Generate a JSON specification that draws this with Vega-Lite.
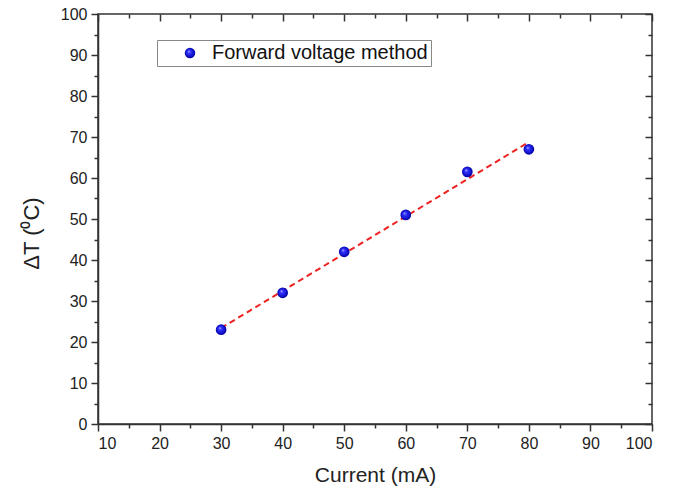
{
  "$schema": "https://vega.github.io/schema/vega-lite/v6.json",
  "width": 554,
  "height": 410,
  "autosize": "none",
  "padding": {"left": 98, "top": 14, "right": 28, "bottom": 68},
  "background": "white",
  "config": {
    "view": {"stroke": "#333333", "strokeWidth": 1.5},
    "font": "Liberation Sans",
    "axis": {
      "grid": false,
      "domainColor": "#333333",
      "domainWidth": 1.5,
      "tickColor": "#333333",
      "tickWidth": 1.5,
      "labelFont": "Liberation Sans",
      "labelFontSize": 16,
      "labelColor": "#222222",
      "titleFont": "Liberation Sans",
      "titleFontSize": 21,
      "titleFontWeight": "normal",
      "titleColor": "#222222"
    }
  },
  "datasets": {
    "pts": [
      {"current": 30, "dT": 23, "series": "Forward voltage method"},
      {"current": 40, "dT": 32, "series": "Forward voltage method"},
      {"current": 50, "dT": 42, "series": "Forward voltage method"},
      {"current": 60, "dT": 51, "series": "Forward voltage method"},
      {"current": 70, "dT": 61.5, "series": "Forward voltage method"},
      {"current": 80, "dT": 67, "series": "Forward voltage method"}
    ],
    "fit": [
      {"current": 30, "dT": 23.4},
      {"current": 79.7, "dT": 68.5}
    ]
  },
  "layer": [
    {
      "encoding": {
        "x": {
          "field": "current", "type": "quantitative",
          "scale": {"domain": [10, 100], "nice": false, "zero": false},
          "axis": {
            "title": "Current (mA)",
            "values": [10,15,20,25,30,35,40,45,50,55,60,65,70,75,80,85,90,95,100],
            "labelExpr": "datum.value % 10 === 0 ? datum.label : ''",
            "tickSize": {"condition": {"test": "datum.value % 10 === 0", "value": 7}, "value": 4},
            "labelPadding": 4,
            "titlePadding": 13
          }
        },
        "y": {
          "field": "dT", "type": "quantitative",
          "scale": {"domain": [0, 100], "nice": false},
          "axis": {
            "title": "ΔT (⁰C)",
            "titleFontSize": 22,
            "titleY": 219,
            "values": [0,5,10,15,20,25,30,35,40,45,50,55,60,65,70,75,80,85,90,95,100],
            "labelExpr": "datum.value % 10 === 0 ? datum.label : ''",
            "tickSize": {"condition": {"test": "datum.value % 10 === 0", "value": 7}, "value": 4},
            "labelPadding": 4,
            "titlePadding": 17
          }
        }
      },
      "layer": [
        {
          "data": {"name": "fit"},
          "mark": {"type": "line", "color": "#ee2222", "strokeWidth": 2, "strokeDash": [6, 4]}
        },
        {
          "data": {"name": "pts"},
          "mark": {
            "type": "point", "filled": true, "size": 115, "opacity": 1, "strokeWidth": 0,
            "fill": {
              "gradient": "radial",
              "x1": 0.38, "y1": 0.35, "r1": 0,
              "x2": 0.5, "y2": 0.5, "r2": 0.55,
              "stops": [
                {"offset": 0, "color": "#e8e8ff"},
                {"offset": 0.22, "color": "#3a3aff"},
                {"offset": 0.7, "color": "#1010d0"},
                {"offset": 1, "color": "#000080"}
              ]
            }
          },
          "encoding": {
            "shape": {
              "field": "series", "type": "nominal",
              "scale": {"range": ["circle"]},
              "legend": {
                "title": null,
                "orient": "none",
                "legendX": 59,
                "legendY": 26,
                "direction": "vertical",
                "strokeColor": "#888888",
                "fillColor": "white",
                "padding": 3,
                "symbolType": "circle",
                "symbolSize": 110,
                "symbolFillColor": "#1a1ae6",
                "symbolStrokeWidth": 0,
                "symbolOffset": 20,
                "labelOffset": 12,
                "labelFont": "Liberation Sans",
                "labelFontSize": 20,
                "labelColor": "#111111",
                "labelLimit": 400
              }
            }
          }
        }
      ]
    },
    {
      "data": {"name": "fit"},
      "mark": {"type": "point", "opacity": 0},
      "encoding": {
        "x": {
          "field": "current", "type": "quantitative",
          "scale": {"domain": [10, 100], "nice": false, "zero": false},
          "axis": {
            "orient": "top", "title": null, "labels": false, "domain": false,
            "values": [10,15,20,25,30,35,40,45,50,55,60,65,70,75,80,85,90,95,100],
            "tickSize": {"condition": {"test": "datum.value % 10 === 0", "value": -7}, "value": -4}
          }
        },
        "y": {
          "field": "dT", "type": "quantitative",
          "scale": {"domain": [0, 100], "nice": false},
          "axis": {
            "orient": "right", "title": null, "labels": false, "domain": false,
            "values": [0,5,10,15,20,25,30,35,40,45,50,55,60,65,70,75,80,85,90,95,100],
            "tickSize": {"condition": {"test": "datum.value % 10 === 0", "value": -7}, "value": -4}
          }
        }
      }
    }
  ],
  "resolve": {"scale": {"x": "independent", "y": "independent"}, "axis": {"x": "independent", "y": "independent"}}
}
